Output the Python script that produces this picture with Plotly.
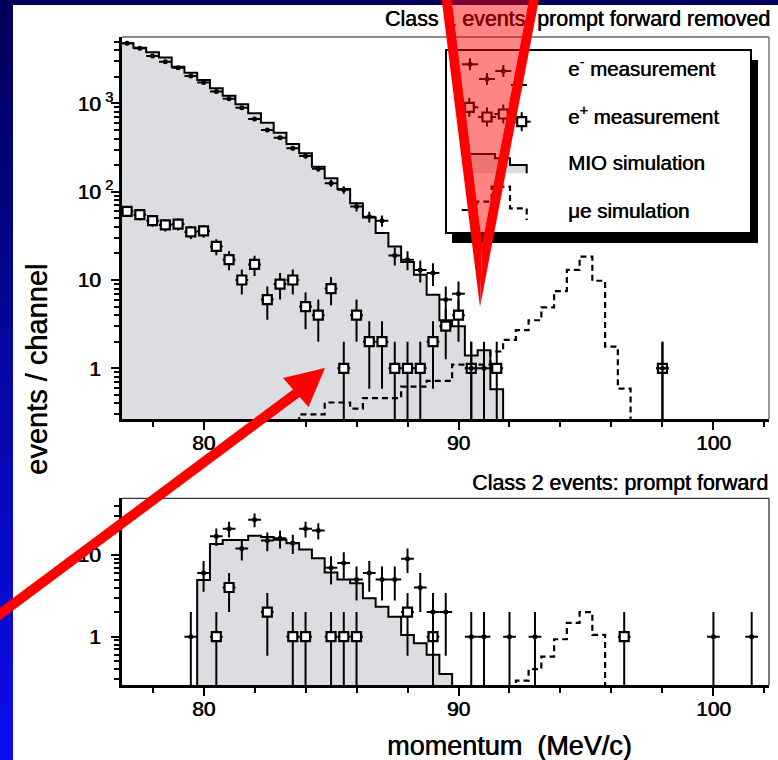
import numpy as np
import plotly.graph_objects as go

W, H = 778, 760
FONT = "Liberation Sans, Arial, Helvetica, sans-serif"
SHADOW = "0.6px 0px 0px black"

# ---------------- data: Class 1 (top panel) ----------------
top_em_x = [77.0, 77.5, 78.0, 78.5, 79.0, 79.5, 80.0, 80.5, 81.0, 81.5,
            82.0, 82.5, 83.0, 83.5, 84.0, 84.5, 85.0, 85.5, 86.0, 86.5,
            87.0, 87.5, 88.0, 88.5, 89.0, 89.5, 90.0, 90.5, 91.0, 98.0]
top_em_y = [4800, 4210, 3440, 2970, 2540, 2040, 1730, 1360, 1130, 893,
            665, 500, 409, 310, 254, 182, 125, 105, 68, 52,
            47, 19, 17, 13, 12, 6, 7, 1, 1, 1]

top_ep_x = [77.0, 77.5, 78.0, 78.5, 79.0, 79.5, 80.0, 80.5, 81.0, 81.5,
            82.0, 82.5, 83.0, 83.5, 84.0, 84.5, 85.0, 85.5, 86.0, 86.5,
            87.0, 87.5, 88.0, 88.5, 89.0, 89.5, 90.0, 90.5, 91.5, 98.0]
top_ep_y = [60, 55, 47, 42, 43, 35, 36, 24, 17, 10,
            15, 6, 9, 10, 5, 4, 8, 1, 4, 2,
            2, 1, 1, 1, 2, 3, 4, 1, 1, 1]

mio_top_x = [77.0, 77.5, 78.0, 78.5, 79.0, 79.5, 80.0, 80.5, 81.0, 81.5,
             82.0, 82.5, 83.0, 83.5, 84.0, 84.5, 85.0, 85.5, 86.0, 86.5,
             87.0, 87.5, 88.0, 88.5, 89.0, 89.5, 90.0, 90.5, 91.0, 91.5]
mio_top_y = [4800, 4270, 3790, 3300, 2600, 2230, 1840, 1480, 1220, 977,
             772, 604, 466, 346, 272, 192, 142, 107, 74, 51,
             34, 24, 16, 11.5, 6.8, 3.5, 3.0, 1.4, 1.6, 0.58]

mue_top_x = [84.0, 84.5, 85.0, 85.5, 86.0, 86.5, 87.0, 87.5, 88.0, 88.5,
             89.0, 89.5, 90.0, 90.5, 91.0, 91.5, 92.0, 92.5, 93.0, 93.5,
             94.0, 94.5, 95.0, 95.5, 96.0, 96.5]
mue_top_y = [0.30, 0.30, 0.41, 0.41, 0.35, 0.46, 0.46, 0.46, 0.62, 0.62,
             0.72, 0.72, 1.1, 1.1, 1.1, 1.55, 2.1, 2.7, 3.5, 4.9,
             7.5, 13, 18.4, 9.8, 1.76, 0.59]

# ---------------- data: Class 2 (bottom panel) ----------------
bot_em_x = [79.5, 80.0, 80.5, 81.0, 81.5, 82.0, 82.5, 83.0, 83.5, 84.0,
            84.5, 85.0, 85.5, 86.0, 86.5, 87.0, 87.5, 88.0, 88.5, 89.0,
            89.5, 90.5, 91.0, 92.0, 93.0, 100.0, 101.5]
bot_em_y = [1, 6, 17, 21, 12, 27, 15, 16, 14, 21,
            20, 7, 8, 5, 6, 5, 5, 9, 4, 2,
            2, 1, 1, 1, 1, 1, 1]

bot_ep_x = [80.5, 81.0, 82.5, 83.5, 84.0, 85.0, 85.5, 86.0, 88.0, 89.0, 96.5]
bot_ep_y = [1, 4, 2, 1, 1, 1, 1, 1, 2, 1, 1]

mio_bot_x = [80.0, 80.5, 81.0, 81.5, 82.0, 82.5, 83.0, 83.5, 84.0, 84.5,
             85.0, 85.5, 86.0, 86.5, 87.0, 87.5, 88.0, 88.5, 89.0, 89.5]
mio_bot_y = [4.94, 13.6, 15.3, 15.3, 17.2, 16.6, 15.4, 13.9, 11.7, 9.1,
             6.1, 5.0, 4.5, 2.95, 2.33, 1.76, 1.05, 0.83, 0.60, 0.35]

mue_bot_x = [92.5, 93.0, 93.5, 94.0, 94.5, 95.0, 95.5]
mue_bot_y = [0.29, 0.40, 0.57, 0.93, 1.48, 2.0, 1.05]

x_tick_vals = [80, 90, 100]
x_tick_text = ["80", "90", "100"]
BIN_W = 0.5

# ---------------- geometry ----------------
XD = [122 / W, 769 / W]
YD_TOP = [1 - 419.3 / H, 1 - 37 / H]
YD_BOT = [1 - 685.3 / H, 1 - 498.3 / H]
XR = [76.80, 102.18]
YR_TOP = [-0.5776, 3.752]
YR_BOT = [-0.595, 1.694]
FLOOR = 0.05


def step_xy(centers, vals):
    edges = [c - BIN_W / 2 for c in centers]
    last = centers[-1] + BIN_W / 2
    xs = [edges[0]] + edges + [last, last]
    ys = [FLOOR] + list(vals) + [vals[-1], FLOOR]
    return xs, ys


def errs(n):
    n = np.asarray(n, dtype=float)
    up = np.sqrt(n)
    dn = np.minimum(np.sqrt(n), n * 0.9999)
    return up, dn


fig = go.Figure()


def add_panel(xa, ya, mio_x, mio_y, mue_x, mue_y, ep_x, ep_y, em_x, em_y):
    sx, sy = step_xy(mio_x, mio_y)
    fig.add_trace(go.Scatter(x=sx, y=sy, mode="lines", fill="toself",
                             fillcolor="#dcdde0",
                             line=dict(shape="hv", color="black", width=2),
                             xaxis=xa, yaxis=ya, hoverinfo="skip"))
    ux, uy = step_xy(mue_x, mue_y)
    fig.add_trace(go.Scatter(x=ux, y=uy, mode="lines",
                             line=dict(shape="hv", color="black", width=2.2,
                                       dash="6px,4px"),
                             xaxis=xa, yaxis=ya, hoverinfo="skip"))
    up, dn = errs(ep_y)
    fig.add_trace(go.Scatter(x=ep_x, y=ep_y, mode="markers",
                             marker=dict(symbol="square", size=9, color="white",
                                         line=dict(color="black", width=2.2)),
                             error_y=dict(type="data", array=up, arrayminus=dn,
                                          color="black", thickness=2, width=0),
                             error_x=dict(type="constant", value=BIN_W / 2,
                                          color="black", thickness=2, width=0),
                             xaxis=xa, yaxis=ya, hoverinfo="skip"))
    up, dn = errs(em_y)
    fig.add_trace(go.Scatter(x=em_x, y=em_y, mode="markers",
                             marker=dict(symbol="circle", size=5, color="black"),
                             error_y=dict(type="data", array=up, arrayminus=dn,
                                          color="black", thickness=2, width=0),
                             error_x=dict(type="constant", value=BIN_W / 2,
                                          color="black", thickness=2, width=0),
                             xaxis=xa, yaxis=ya, hoverinfo="skip"))


add_panel("x", "y", mio_top_x, mio_top_y, mue_top_x, mue_top_y,
          top_ep_x, top_ep_y, top_em_x, top_em_y)
add_panel("x2", "y2", mio_bot_x, mio_bot_y, mue_bot_x, mue_bot_y,
          bot_ep_x, bot_ep_y, bot_em_x, bot_em_y)

# ---------------- overlay (pixel coordinates) for legend glyphs and top title ----------------
OV = dict(xaxis="x3", yaxis="y3", hoverinfo="skip")
fig.add_trace(go.Scatter(x=[468.3, 468.3, 495, 495, 510, 510, 526.7, 526.7],
                         y=[173.3, 154, 154, 158.3, 158.3, 165, 165, 173.3],
                         mode="lines", fill="toself", fillcolor="#dcdde0",
                         line=dict(color="black", width=2), **OV))
fig.add_trace(go.Scatter(x=[461.7, 476.7, 476.7, 491.7, 491.7, 510, 510, 526.7, 526.7],
                         y=[210, 210, 201.7, 201.7, 186.7, 186.7, 208.3, 208.3, 220],
                         mode="lines", line=dict(color="black", width=2.2, dash="6px,4px"),
                         **OV))
fig.add_trace(go.Scatter(x=[469.3, 487, 503.3, 521.7], y=[107.3, 117, 114, 121.7],
                         mode="markers",
                         marker=dict(symbol="square", size=9, color="white",
                                     line=dict(color="black", width=2.2)),
                         error_x=dict(type="constant", value=9, color="black", thickness=2, width=0),
                         error_y=dict(type="constant", value=9.5, color="black", thickness=2, width=0),
                         **OV))
fig.add_trace(go.Scatter(x=[470, 487, 503.3, 519], y=[64.3, 79, 71, 85],
                         mode="markers", marker=dict(symbol="circle", size=5, color="black"),
                         error_x=dict(type="constant", value=8, color="black", thickness=2, width=0),
                         error_y=dict(type="constant", value=6, color="black", thickness=2, width=0),
                         **OV))
fig.add_trace(go.Scatter(x=[770], y=[21], mode="text",
                         text=["Class 1 events: prompt forward removed"],
                         textposition="middle left", cliponaxis=False,
                         textfont=dict(family=FONT, size=21.4, color="black", shadow=SHADOW), **OV))

# ---------------- axes ----------------
tickfont = dict(family=FONT, size=21, color="black", shadow=SHADOW)
pad = "<span style='color:rgba(0,0,0,0)'><sup> 3</sup></span>"


def xaxis_common(anchor):
    return dict(domain=XD, range=XR, anchor=anchor, showgrid=False, zeroline=False,
                showline=True, linecolor="black", linewidth=2.5, mirror=False,
                ticks="outside", ticklen=8, tickwidth=2, tickcolor="black",
                tickmode="array", tickvals=x_tick_vals, ticktext=x_tick_text,
                tickfont=tickfont, ticklabelstandoff=-5,
                minor=dict(ticks="outside", ticklen=5, tickwidth=1.5, tickcolor="black",
                           dtick=2, tick0=0),
                fixedrange=True)


def yaxis_common(anchor, dom, rng, vals, texts, minors):
    return dict(domain=dom, range=rng, type="log", anchor=anchor, showgrid=False,
                zeroline=False, showline=True, linecolor="black", linewidth=2.5,
                mirror=False, ticks="outside", ticklen=8, tickwidth=2, tickcolor="black",
                tickmode="array", tickvals=vals, ticktext=texts, tickfont=tickfont,
                ticklabelstandoff=-6,
                minor=dict(ticks="outside", ticklen=5, tickwidth=1.5, tickcolor="black",
                           tickmode="array", tickvals=minors),
                fixedrange=True)


minor_top = [m * 10 ** e for e in range(-1, 4) for m in range(2, 10)]
minor_bot = [m * 10 ** e for e in range(-1, 2) for m in range(2, 10)]

fig.update_layout(
    width=W, height=H, margin=dict(l=0, r=0, t=0, b=0),
    paper_bgcolor="white", plot_bgcolor="rgba(0,0,0,0)", showlegend=False,
    xaxis=xaxis_common("y"),
    yaxis=yaxis_common("x", YD_TOP, YR_TOP, [1, 10, 100, 1000],
                       ["1" + pad, "10" + pad, "10<sup> 2</sup>", "10<sup> 3</sup>"], minor_top),
    xaxis2=xaxis_common("y2"),
    yaxis2=yaxis_common("x2", YD_BOT, YR_BOT, [1, 10], ["1" + pad, "10" + pad], minor_bot),
    xaxis3=dict(domain=[0, 1], range=[0, W], anchor="y3", visible=False, fixedrange=True),
    yaxis3=dict(domain=[0, 1], range=[H, 0], anchor="x3", visible=False, fixedrange=True),
)


# ---------------- shapes ----------------
def px(x, y):
    return x / W, 1 - y / H


def path(pts):
    s = ""
    for i, (x, y) in enumerate(pts):
        a, b = px(x, y)
        s += ("M" if i == 0 else "L") + f"{a:.5f},{b:.5f} "
    return s + "Z"


shapes = []
# blue gradient background strips
n_band = 40
for i in range(n_band):
    t = i / (n_band - 1)
    col = f"rgb({int(0 + 12 * t)},{int(0 + 14 * t)},{int(90 + 150 * t)})"
    y0, y1 = i * H / n_band, (i + 1) * H / n_band + 1
    x0, yy0 = px(0, y1)
    x1, yy1 = px(W, y0)
    shapes.append(dict(type="rect", xref="paper", yref="paper", x0=x0, x1=x1, y0=yy0, y1=yy1,
                       fillcolor=col, line=dict(width=0), layer="below"))
a0, b0 = px(13, H)
a1, b1 = px(W, 5)
shapes.append(dict(type="rect", xref="paper", yref="paper", x0=a0, x1=a1, y0=b0, y1=b1,
                   fillcolor="white", line=dict(width=0), layer="below"))

# legend box with shadow
for (xa, ya, xb, yb, fc, lw) in [(452, 60, 758, 243, "black", 0), (446, 50, 751, 233, "white", 2)]:
    p0 = px(xa, yb)
    p1 = px(xb, ya)
    shapes.append(dict(type="rect", xref="paper", yref="paper", x0=p0[0], x1=p1[0], y0=p0[1], y1=p1[1],
                       fillcolor=fc, line=dict(width=lw, color="black"), layer="below"))

# thin top/right frame lines
for (ytop, ybot, col) in [(37, 419.3, "#666666"), (498.3, 685.3, "#333333")]:
    for (xa, ya, xb, yb) in [(122, ytop, 769, ytop), (769, ytop, 769, ybot)]:
        p0 = px(xa, ya)
        p1 = px(xb, yb)
        shapes.append(dict(type="line", xref="paper", yref="paper", x0=p0[0], y0=p0[1],
                           x1=p1[0], y1=p1[1], line=dict(color=col, width=1.3), layer="above"))

# red highlighting triangle
shapes.append(dict(type="path", xref="paper", yref="paper",
                   path=path([(451, -6), (530, -6), (482.1, 244)]),
                   fillcolor="rgba(255,0,0,0.48)", line=dict(width=0), layer="above"))
shapes.append(dict(type="path", xref="paper", yref="paper",
                   path=path([(441, -6), (451, -6), (482.1, 244), (480, 307)]),
                   fillcolor="#ff0000", line=dict(width=0), layer="above"))
shapes.append(dict(type="path", xref="paper", yref="paper",
                   path=path([(530, -6), (540, -6), (480, 307), (482.1, 244)]),
                   fillcolor="#ff0000", line=dict(width=0), layer="above"))
# red arrow
p0 = px(-10, 621.5)
p1 = px(298, 392)
shapes.append(dict(type="line", xref="paper", yref="paper", x0=p0[0], y0=p0[1], x1=p1[0], y1=p1[1],
                   line=dict(color="#ff0000", width=10), layer="above"))
shapes.append(dict(type="path", xref="paper", yref="paper",
                   path=path([(325, 368), (283, 378), (308.5, 407)]),
                   fillcolor="#ff0000", line=dict(width=0), layer="above"))
fig.update_layout(shapes=shapes)

# ---------------- annotations ----------------
ann = []


def text(x, y, s, size, xanchor="left", angle=0):
    a, b = px(x, y)
    ann.append(dict(x=a, y=b, xref="paper", yref="paper", text=s, showarrow=False,
                    xanchor=xanchor, yanchor="middle", textangle=angle,
                    font=dict(family=FONT, size=size, color="black", shadow=SHADOW)))


text(770, 483, "Class 2 events: prompt forward", 21.4, xanchor="right")
text(566, 67, "e<sup>-</sup> measurement", 20.5)
text(566, 115, "e<sup>+</sup> measurement", 20.5)
text(566, 162, "MIO simulation", 20.5)
text(566, 210, "\u03bce simulation", 20.5)
text(37, 370, "events / channel", 29, xanchor="center", angle=-90)
text(509, 746, "momentum\u00a0 (MeV/c)", 27, xanchor="center")
fig.update_layout(annotations=ann)

fig.write_html("out.html", config={"displayModeBar": False})
